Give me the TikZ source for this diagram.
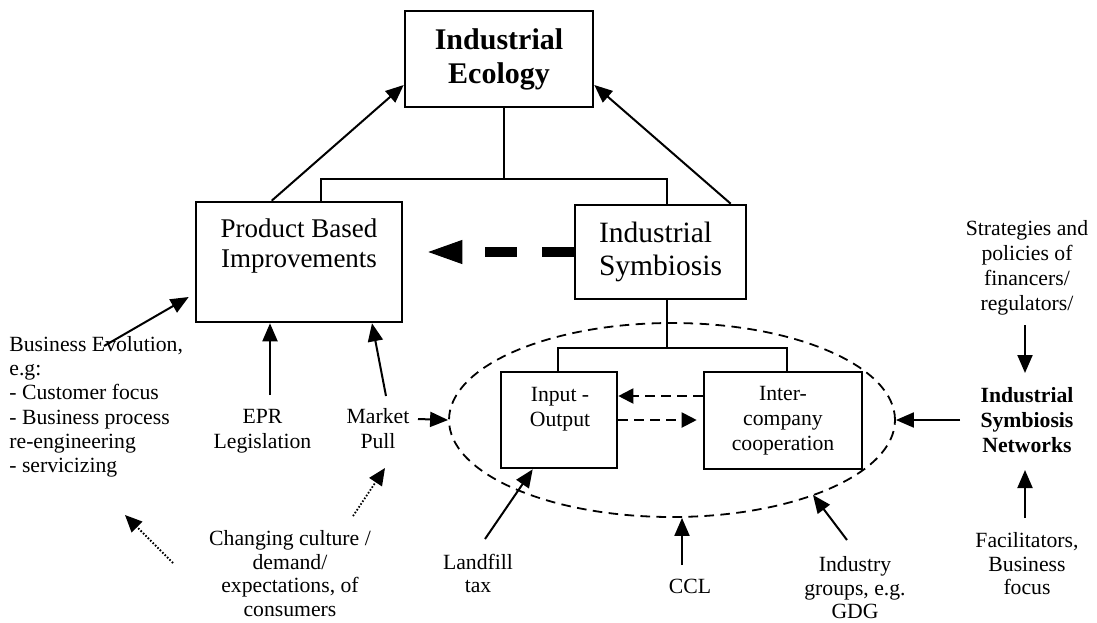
\documentclass[tikz,border=0pt]{standalone}
\usepackage{fontspec}
\setmainfont{Liberation Serif}
\usetikzlibrary{arrows.meta,shapes.geometric}

% font sizes used in the diagram
\newcommand\fTitle{\fontsize{15}{17}\selectfont\bfseries}
\newcommand\fBox{\fontsize{13.5}{15}\selectfont}
\newcommand\fSym{\fontsize{14.75}{16.15}\selectfont}
\newcommand\fSmall{\fontsize{10.85}{12.5}\selectfont}
\newcommand\fTight{\fontsize{10.85}{11.8}\selectfont}
\newcommand\fBiz{\fontsize{10.85}{12.1}\selectfont}

\begin{document}
\begin{tikzpicture}[x=0.5pt,y=-0.5pt,
  box/.style={draw, line width=1.3pt, inner sep=0pt, align=center},
  txt/.style={inner sep=0pt, align=center, font=\fSmall},
  tree/.style={line width=1pt},
  arr/.style={line width=1pt, -{Triangle[length=9pt,width=7.5pt]}},
  dotarr/.style={line width=0.9pt, dash pattern=on 0.8pt off 0.9pt,
                 -{Triangle[length=8.5pt,width=7.5pt]}},
  dasharr/.style={line width=1pt, dash pattern=on 5pt off 3pt,
                  -{Triangle[length=7.5pt,width=7.5pt]}},
  bigdash/.style={line width=5pt, dash pattern=on 16pt off 12.5pt,
                  -{Triangle[length=17pt,width=12pt,line width=0.5pt]}},
  ell/.style={draw, ellipse, line width=0.9pt, dash pattern=on 4.8pt off 3.2pt,
              minimum width=223pt, minimum height=97pt, inner sep=0pt}
]
\useasboundingbox (0,0) rectangle (1097,622);

% boundary of the symbiosis cluster
\node[ell] (E) at (672,420) {};

% main boxes
\node[box, minimum width=94pt, minimum height=48pt, font=\fTitle] (IE) at (499,59) {Industrial\\Ecology};
\node[box, minimum width=103pt, minimum height=60pt] (PBI) at (299,262) {};
\node[txt, font=\fBox, anchor=north] (PBIt) at (299,218.5) {Product Based\\Improvements};
\node[box, align=left, minimum width=85.5pt, minimum height=47pt, font=\fSym] (IS) at (660.5,252) {Industrial\\Symbiosis};
\node[box, minimum width=58pt, minimum height=48pt] (IO) at (559,420) {};
\node[txt, anchor=north] (IOt) at (560,387) {Input -\\Output};
\node[box, minimum width=79pt, minimum height=48.5pt, font=\fSmall] (IC) at (783,420.5) {Inter-\\company\\cooperation};

% free-standing labels
\node[txt, anchor=north west, align=left, font=\fBiz] (BE) at (9,336)
  {Business Evolution,\\e.g:\\- Customer focus\\- Business process\\re-engineering\\- servicizing};
\node[txt, anchor=north] (EPR) at (262.5,409) {EPR\\Legislation};
\node[txt, anchor=north] (MP) at (378,408.5) {Market\\Pull};
\node[txt, anchor=north, font=\fTight] (CC) at (290,530) {Changing culture /\\demand/\\expectations, of\\consumers};
\node[txt, anchor=north, font=\fTight] (LF) at (478,553.5) {Landfill\\tax};
\node[txt, anchor=north] (CCL) at (690,579) {CCL};
\node[txt, anchor=north, font=\fTight] (IG) at (855,556) {Industry\\groups, e.g.\\GDG};
\node[txt, anchor=north] (SP) at (1027,220) {Strategies and\\policies of\\financers/\\regulators/};
\node[txt, anchor=north, font=\fSmall\bfseries] (ISN) at (1027,387) {Industrial\\Symbiosis\\Networks};
\node[txt, anchor=north, font=\fTight] (FB) at (1027,532) {Facilitators,\\Business\\focus};

% hierarchy connectors
\coordinate (t1) at (504,179);
\coordinate (t1l) at (321,179);
\coordinate (t1r) at (667,179);
\draw[tree] (t1 |- IE.south) -- (t1);
\draw[tree] (t1l |- PBI.north) -- (t1l) -- (t1r) -- (t1r |- IS.north);
\coordinate (t2) at (667,348);
\coordinate (t2l) at (558,348);
\coordinate (t2r) at (787,348);
\draw[tree] (t2 |- IS.south) -- (t2);
\draw[tree] (t2l |- IO.north) -- (t2l) -- (t2r) -- (t2r |- IC.north);

% arrows into Industrial Ecology
\draw[arr] ([xshift=38.5pt]PBI.north west) -- ([yshift=-13pt]IE.west);
\draw[arr] ([xshift=78.5pt]IS.north west) -- ([yshift=-13pt]IE.east);

% symbiosis feeding product improvements
\draw[bigdash, shorten >=12.5pt] (IS.west) -- (IS.west -| PBI.east);

% exchanges inside the cluster
\draw[dasharr] ([yshift=12.25pt]IC.west) -- ([yshift=12pt]IO.east);
\draw[dasharr, shorten >=3pt] (IO.east) -- (IO.east -| IC.west);

% drivers of product based improvements
\coordinate (bevT) at (104,346);
\draw[arr] (bevT) -- ([xshift=-3pt,yshift=-17.5pt]PBI.west);
\coordinate (eprT) at (270,395);
\draw[arr] (eprT) -- (eprT |- PBI.south);
\coordinate (mpT) at (386,396);
\draw[arr] (mpT) -- ([xshift=36.5pt]PBI.south);

% consumer culture
\coordinate (ccA) at (353,516);
\coordinate (mpB) at (385,468);
\draw[dotarr] (ccA) -- (mpB);
\coordinate (ccB) at (173,563);
\coordinate (beB) at (125,515);
\draw[dotarr] (ccB) -- (beB);

% drivers of industrial symbiosis
\coordinate (mpR) at (418,419);
\draw[arr] (mpR) -- (E.west);
\coordinate (lfT) at (485,539);
\draw[arr] (lfT) -- ([xshift=16.5pt]IO.south west);
\coordinate (cclT) at (682,565);
\draw[arr] (cclT) -- (cclT |- E.south);
\coordinate (igT) at (847,540);
\coordinate (igE) at (813,495);
\draw[arr] (igT) -- (igE);
\coordinate (isnL) at (960,420);
\draw[arr] (isnL) -- (E.east);

% network inputs
\coordinate (spB) at (1025,325);
\coordinate (isnTop) at (1025,373);
\draw[arr] (spB) -- (isnTop);
\coordinate (fbT) at (1025,518);
\coordinate (isnBot) at (1025,470);
\draw[arr] (fbT) -- (isnBot);
\end{tikzpicture}
\end{document}
